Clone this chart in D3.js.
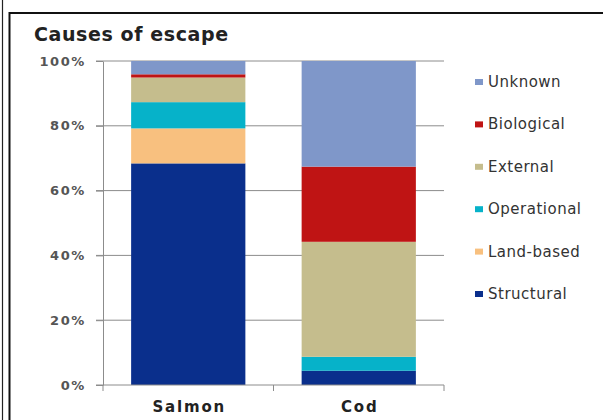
<!DOCTYPE html>
<html>
<head>
<meta charset="utf-8">
<script src="https://cdn.jsdelivr.net/npm/d3@7"></script>
<style>
  body { margin: 0; background: #fff; }
  svg { display: block; }
</style>
</head>
<body>
<div id="chart"></div>
<script>
// data (percent of escapes)
const categories = ["Salmon", "Cod"];
const causes = ["Structural", "Land-based", "Operational", "External", "Biological", "Unknown"];
const salmonValues = [68.4, 10.8, 8.1, 7.6, 1.0, 4.1];
const codValues = [4.4, 0, 4.3, 35.5, 23.2, 32.6];
const yTicks = [0, 20, 40, 60, 80, 100];
const colors = ["#0a2f8c", "#f8c07f", "#06b2c9", "#c5bd8d", "#bf1414", "#7f97c9"];

let WIDTH = 603,
    HEIGHT = 420;

let svg = d3.select("#chart")
    .append("svg")
    .attr("width", WIDTH)
    .attr("height", HEIGHT);

// frame lines
svg.append("line").attr("x1", 2.5).attr("x2", 2.5).attr("y1", 0).attr("y2", HEIGHT)
    .attr("stroke", "#222").attr("stroke-width", 1.2);
svg.append("line").attr("x1", 9.5).attr("x2", 9.5).attr("y1", 12).attr("y2", HEIGHT)
    .attr("stroke", "#111").attr("stroke-width", 2);
svg.append("line").attr("x1", 9).attr("x2", WIDTH).attr("y1", 13).attr("y2", 13)
    .attr("stroke", "#111").attr("stroke-width", 2);

let margin = {left: 103, right: 444, top: 61, bottom: 385};

let x = d3.scaleBand().domain(categories)
    .range([margin.left, margin.right])
    .paddingInner(0.33).paddingOuter(0.165);

let y = d3.scaleLinear().domain([0, 100]).range([margin.bottom, margin.top]);

let rows = categories.map((c, i) => {
    let vals = i == 0 ? salmonValues : codValues;
    let r = {cat: c};
    causes.forEach((k, j) => r[k] = vals[j]);
    return r;
});

let stacked = d3.stack().keys(causes)(rows);
let color = d3.scaleOrdinal().domain(causes).range(colors);

// gridlines
svg.append("g").selectAll("line")
    .data(yTicks.filter(t => t > 0))
    .enter().append("line")
    .attr("x1", margin.left - 7).attr("x2", margin.right)
    .attr("y1", d => y(d)).attr("y2", d => y(d))
    .attr("stroke", "#8c8c8c").attr("stroke-width", 1);

// bars
svg.append("g").selectAll("g")
    .data(stacked)
    .enter().append("g")
    .attr("fill", d => color(d.key))
    .selectAll("rect")
    .data(d => d)
    .enter().append("rect")
    .attr("x", d => x(d.data.cat))
    .attr("width", x.bandwidth())
    .attr("y", d => y(d[1]))
    .attr("height", d => y(d[0]) - y(d[1]));

// y axis
let yAxis = svg.append("g")
    .attr("transform", `translate(${margin.left},0)`)
    .call(d3.axisLeft(y).tickValues(yTicks).tickFormat(d => d + "%").tickSize(7).tickSizeOuter(0));
yAxis.select(".domain").attr("stroke", "#8c8c8c");
yAxis.selectAll(".tick line").attr("stroke", "#8c8c8c");
yAxis.selectAll("text")
    .attr("x", -17)
    .style("font-family", "Verdana, 'DejaVu Sans', sans-serif")
    .style("font-size", "13px")
    .style("font-weight", "bold")
    .style("letter-spacing", "1.6px")
    .attr("fill", "#555");

// x axis
let xAxis = svg.append("g")
    .attr("transform", `translate(0,${margin.bottom})`);
xAxis.append("line").attr("x1", margin.left - 7).attr("x2", margin.right)
    .attr("stroke", "#8c8c8c");
xAxis.selectAll(".sep")
    .data([margin.left, (margin.left + margin.right) / 2, margin.right])
    .enter().append("line")
    .attr("x1", d => d).attr("x2", d => d)
    .attr("y1", 0).attr("y2", 6)
    .attr("stroke", "#8c8c8c");
xAxis.selectAll("text")
    .data(categories)
    .enter().append("text")
    .attr("x", d => x(d) + x.bandwidth() / 2 + 1)
    .attr("y", 27)
    .attr("text-anchor", "middle")
    .style("font-family", "Verdana, 'DejaVu Sans', sans-serif")
    .style("font-size", "15px")
    .style("font-weight", "bold")
    .style("letter-spacing", "1.8px")
    .attr("fill", "#222")
    .text(d => d);

// title
svg.append("text")
    .attr("x", 34).attr("y", 41)
    .style("font-family", "Verdana, 'DejaVu Sans', sans-serif")
    .style("font-size", "19px")
    .style("font-weight", "bold")
    .style("letter-spacing", "0.6px")
    .attr("fill", "#222")
    .text("Causes of escape");

// legend, top entry is the last series
let legend = svg.append("g").selectAll("g")
    .data(causes.slice().reverse())
    .enter().append("g")
    .attr("transform", (d, i) => `translate(475,${82 + i * 42.4})`);
legend.append("rect")
    .attr("x", 0).attr("y", -3)
    .attr("width", 8).attr("height", 6)
    .attr("fill", d => color(d));
legend.append("text")
    .attr("x", 13).attr("y", 5)
    .style("font-family", "Verdana, 'DejaVu Sans', sans-serif")
    .style("font-size", "15px")
    .style("letter-spacing", "0.5px")
    .attr("fill", "#333")
    .text(d => d);
</script>
</body>
</html>
